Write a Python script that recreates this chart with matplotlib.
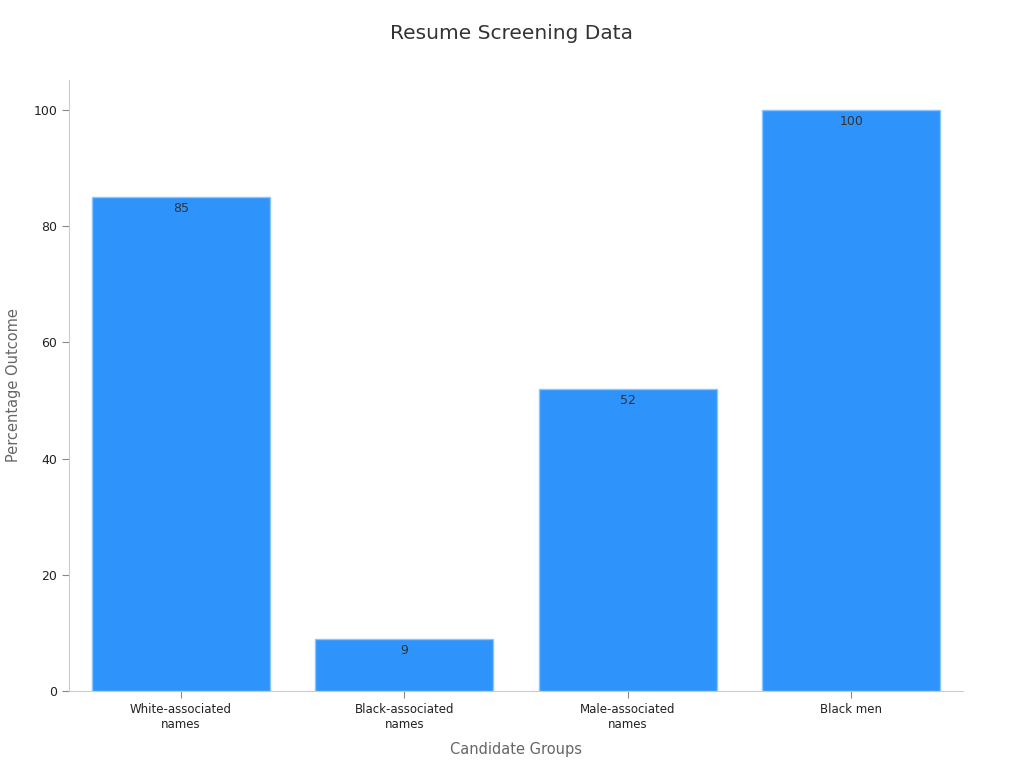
import matplotlib
matplotlib.use("Agg")
import matplotlib.pyplot as plt

categories = ["White-associated\nnames", "Black-associated\nnames", "Male-associated\nnames", "Black men"]
values = [85, 9, 52, 100]

fig = plt.figure(figsize=(10.24, 7.68), dpi=100)
ax = fig.add_axes([0.0674, 0.1003, 0.8730, 0.7957])

x = list(range(len(categories)))
bars = ax.bar(x, values, width=0.795, color="#2E93FA", edgecolor="#8CC4FF", linewidth=1)
for xi, v in zip(x, values):
    ax.annotate(str(v), (xi, v), xytext=(0, -3.5), textcoords="offset points",
                ha="center", va="top", fontsize=9, color="#333333")

ax.set_xlim(-0.5, 3.5)
ax.set_ylim(0, 105.2)
ax.set_yticks([0, 20, 40, 60, 80, 100])
ax.set_xticks(x)
ax.set_xticklabels(categories, fontsize=8.5, color="#222222")
ax.tick_params(axis="y", labelsize=9, colors="#222222")
ax.tick_params(axis="both", color="#888888", length=5)
for s in ["top", "right"]:
    ax.spines[s].set_visible(False)
for s in ["left", "bottom"]:
    ax.spines[s].set_color("#cccccc")

ax.set_xlabel("Candidate Groups", fontsize=10.5, color="#666666", labelpad=8)
ax.set_ylabel("Percentage Outcome", fontsize=10.5, color="#666666", labelpad=9)
fig.suptitle("Resume Screening Data", fontsize=14.5, color="#333333", y=0.969)

fig.savefig("out.png", dpi=100)
